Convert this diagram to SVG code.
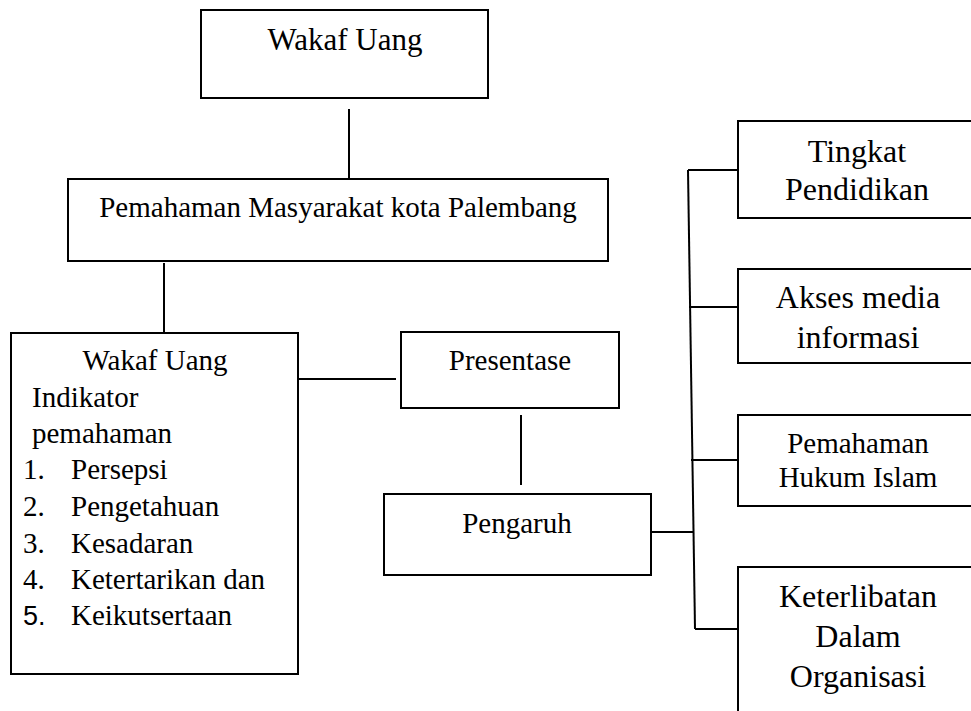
<svg xmlns="http://www.w3.org/2000/svg" width="971" height="711" viewBox="0 0 971 711">
<style>
.box{fill:#fff;stroke:#000;stroke-width:2}
.ln{stroke:#000;stroke-width:2;fill:none}
.t{font-family:'Liberation Serif','Times New Roman',Times,serif;fill:#000;font-size:29px}
.c{text-anchor:middle}
.big{font-size:32px}
.sans{font-family:'Liberation Sans',Arial,sans-serif;font-size:27px}
</style>
<rect width="971" height="711" fill="#fff"/>
<g id="connectors">
<line class="ln" x1="349" y1="109" x2="349" y2="179"/>
<line class="ln" x1="164" y1="263" x2="164" y2="333"/>
<line class="ln" x1="298" y1="379" x2="396" y2="379"/>
<line class="ln" x1="521" y1="415" x2="521" y2="485"/>
<line class="ln" x1="651" y1="532" x2="694" y2="532"/>
<line class="ln" x1="688" y1="170" x2="695" y2="629"/>
<line class="ln" x1="688" y1="170" x2="738" y2="170"/>
<line class="ln" x1="689" y1="307" x2="738" y2="307"/>
<line class="ln" x1="691" y1="460" x2="738" y2="460"/>
<line class="ln" x1="695" y1="629" x2="738" y2="629"/>
</g>
<g id="wakaf-uang">
<rect class="box" x="201" y="10" width="287" height="88"/>
<text class="t c" x="345" y="50" font-family="Liberation Serif" style="font-size:31px">Wakaf Uang</text>
</g>
<g id="pemahaman-masyarakat">
<rect class="box" x="68" y="179" width="540" height="82"/>
<text class="t c" x="338" y="217" font-family="Liberation Serif">Pemahaman Masyarakat kota Palembang</text>
</g>
<g id="indikator" font-family="Liberation Serif">
<rect class="box" x="11" y="333" width="287" height="341"/>
<text class="t c" x="155" y="370">Wakaf Uang</text>
<text class="t" x="32" y="407">Indikator</text>
<text class="t" x="32" y="443">pemahaman</text>
<text class="t" x="23" y="479">1.</text><text class="t" x="71" y="479">Persepsi</text>
<text class="t" x="23" y="516">2.</text><text class="t" x="71" y="516">Pengetahuan</text>
<text class="t" x="23" y="553">3.</text><text class="t" x="71" y="553">Kesadaran</text>
<text class="t" x="23" y="589">4.</text><text class="t" x="71" y="589">Ketertarikan dan</text>
<text class="t sans" x="23" y="625">5.</text><text class="t" x="71" y="625">Keikutsertaan</text>
</g>
<g id="presentase">
<rect class="box" x="401" y="332" width="218" height="76"/>
<text class="t c" x="510" y="370">Presentase</text>
</g>
<g id="pengaruh">
<rect class="box" x="384" y="494" width="267" height="81"/>
<text class="t c" x="517" y="533">Pengaruh</text>
</g>
<g id="tingkat-pendidikan">
<rect class="box" x="738" y="121" width="242" height="97"/>
<text class="t c big" x="857" y="162">Tingkat</text>
<text class="t c big" x="857" y="200">Pendidikan</text>
</g>
<g id="akses-media">
<rect class="box" x="738" y="269" width="242" height="94"/>
<text class="t c big" x="858" y="308">Akses media</text>
<text class="t c big" x="858" y="348">informasi</text>
</g>
<g id="pemahaman-hukum">
<rect class="box" x="738" y="415" width="242" height="91"/>
<text class="t c" x="858" y="453">Pemahaman</text>
<text class="t c" x="858" y="487">Hukum Islam</text>
</g>
<g id="keterlibatan">
<rect class="box" x="738" y="567" width="242" height="160"/>
<text class="t c big" x="858" y="607">Keterlibatan</text>
<text class="t c big" x="858" y="647">Dalam</text>
<text class="t c big" x="858" y="687">Organisasi</text>
</g>
</svg>
